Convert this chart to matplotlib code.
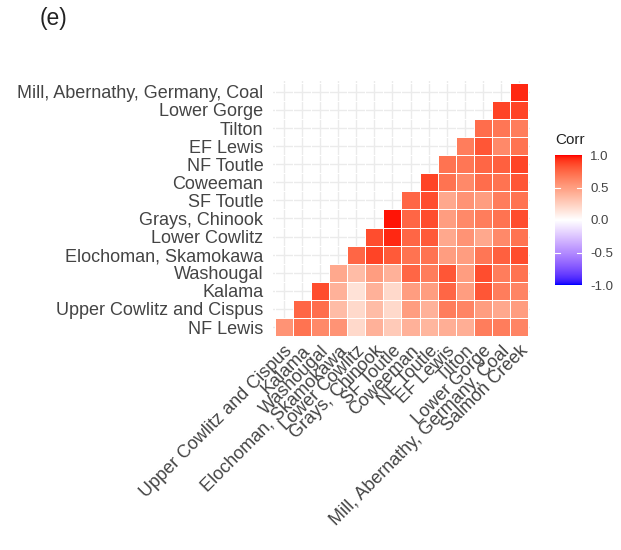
import numpy as np
import matplotlib
matplotlib.use("Agg")
import matplotlib.pyplot as plt
from matplotlib.colors import ListedColormap

plt.rcParams['font.family'] = ['Liberation Sans', 'DejaVu Sans']

# y axis (bottom -> top) and x axis (left -> right) categories
y_labels = ["NF Lewis", "Upper Cowlitz and Cispus", "Kalama", "Washougal",
            "Elochoman, Skamokawa", "Lower Cowlitz", "Grays, Chinook", "SF Toutle",
            "Coweeman", "NF Toutle", "EF Lewis", "Tilton", "Lower Gorge",
            "Mill, Abernathy, Germany, Coal"]
x_labels = ["Upper Cowlitz and Cispus", "Kalama", "Washougal", "Elochoman, Skamokawa",
            "Lower Cowlitz", "Grays, Chinook", "SF Toutle", "Coweeman", "NF Toutle",
            "EF Lewis", "Tilton", "Lower Gorge", "Mill, Abernathy, Germany, Coal",
            "Salmon Creek"]

# correlations per row, starting at the diagonal column
nf_lewis = [0.55, 0.70, 0.60, 0.55, 0.20, 0.40, 0.28, 0.40, 0.38, 0.42, 0.42, 0.65, 0.65, 0.62]
upper_cowlitz = [0.75, 0.72, 0.35, 0.20, 0.35, 0.20, 0.50, 0.40, 0.65, 0.62, 0.50, 0.45, 0.50]
kalama = [0.85, 0.40, 0.15, 0.40, 0.20, 0.50, 0.50, 0.75, 0.50, 0.82, 0.65, 0.62]
washougal = [0.45, 0.35, 0.50, 0.40, 0.75, 0.65, 0.82, 0.50, 0.85, 0.65, 0.70]
elochoman = [0.75, 0.88, 0.80, 0.70, 0.70, 0.50, 0.50, 0.68, 0.78, 0.85]
lower_cowlitz = [0.85, 0.95, 0.75, 0.80, 0.45, 0.55, 0.45, 0.60, 0.70]
grays = [0.98, 0.75, 0.85, 0.50, 0.60, 0.65, 0.70, 0.85]
sf_toutle = [0.75, 0.85, 0.45, 0.55, 0.50, 0.65, 0.70]
coweeman = [0.88, 0.70, 0.60, 0.72, 0.70, 0.82]
nf_toutle = [0.70, 0.68, 0.75, 0.78, 0.88]
ef_lewis = [0.65, 0.82, 0.60, 0.70]
tilton = [0.72, 0.68, 0.65]
lower_gorge = [0.88, 0.88]
mill = [0.95]

rows = [nf_lewis, upper_cowlitz, kalama, washougal, elochoman, lower_cowlitz, grays,
        sf_toutle, coweeman, nf_toutle, ef_lewis, tilton, lower_gorge, mill]

n = len(x_labels)
mat = np.full((n, n), np.nan)
for i, r in enumerate(rows):
    mat[i, i:] = r
mat = np.ma.masked_invalid(mat)


# ggplot-like gradient (interpolated in Lab)
def srgb_to_lab(c):
    c = np.asarray(c, float)
    lin = np.where(c <= 0.04045, c / 12.92, ((c + 0.055) / 1.055) ** 2.4)
    M = np.array([[0.4124, 0.3576, 0.1805], [0.2126, 0.7152, 0.0722], [0.0193, 0.1192, 0.9505]])
    xyz = M @ lin / np.array([0.95047, 1.0, 1.08883])
    f = np.where(xyz > 0.008856, np.cbrt(xyz), 7.787 * xyz + 16 / 116)
    return np.array([116 * f[1] - 16, 500 * (f[0] - f[1]), 200 * (f[1] - f[2])])


def lab_to_srgb(lab):
    L, a, b = lab
    fy = (L + 16) / 116
    fx = fy + a / 500
    fz = fy - b / 200
    f = np.array([fx, fy, fz])
    xyz = np.where(f ** 3 > 0.008856, f ** 3, (f - 16 / 116) / 7.787) * np.array([0.95047, 1.0, 1.08883])
    Minv = np.array([[3.2406, -1.5372, -0.4986], [-0.9689, 1.8758, 0.0415], [0.0557, -0.2040, 1.0570]])
    lin = np.clip(Minv @ xyz, 0, 1)
    c = np.where(lin <= 0.0031308, 12.92 * lin, 1.055 * lin ** (1 / 2.4) - 0.055)
    return np.clip(c, 0, 1)


blue, white, red = srgb_to_lab([0, 0, 1]), srgb_to_lab([1, 1, 1]), srgb_to_lab([1, 0, 0])
cols = []
for t in np.linspace(-1, 1, 256):
    if t < 0:
        lab = white + (blue - white) * (-t)
    else:
        lab = white + (red - white) * t
    cols.append(lab_to_srgb(lab))
cmap = ListedColormap(cols)

fig = plt.figure(figsize=(6.21, 5.5), dpi=100)
ax = fig.add_axes([0.4396, 0.3873, 0.4138, 0.4655])

ax.set_axisbelow(True)
ax.grid(True, color="#EBEBEB", linewidth=1.0)
mesh = ax.pcolormesh(np.arange(n + 1) - 0.5, np.arange(n + 1) - 0.5, mat, cmap=cmap,
                     vmin=-1, vmax=1, edgecolors="white", linewidth=0.4)

ax.set_xlim(-0.6, n - 0.4)
ax.set_ylim(-0.55, n - 0.4)
ax.set_xticks(np.arange(n))
ax.set_yticks(np.arange(n))
ax.set_xticklabels(x_labels, rotation=45, ha="right", va="top", rotation_mode="anchor")
ax.set_yticklabels(y_labels)
ax.tick_params(axis="both", labelcolor="#444444", labelsize=13, length=0)
ax.tick_params(axis="x", pad=4)
ax.tick_params(axis="y", pad=7)
for s in ax.spines.values():
    s.set_visible(False)

# colour bar
cax = fig.add_axes([555 / 621, 1 - 285 / 550, 27 / 621, 130 / 550])
cb = fig.colorbar(mesh, cax=cax, ticks=[-1, -0.5, 0, 0.5, 1])
cb.ax.set_yticklabels(["-1.0", "-0.5", "0.0", "0.5", "1.0"])
cb.outline.set_visible(False)
cb.ax.tick_params(length=0, labelsize=9.5, labelcolor="#444444", pad=6)
for v in [-0.5, 0, 0.5]:
    cb.ax.plot([0, 0.2], [v, v], color="white", lw=0.8, transform=cb.ax.get_yaxis_transform())
    cb.ax.plot([0.8, 1], [v, v], color="white", lw=0.8, transform=cb.ax.get_yaxis_transform())
fig.text(555 / 621, 1 - 140 / 550, "Corr", fontsize=11, color="#222222", va="center")

fig.text(40 / 621, 1 - 18 / 550, "(e)", fontsize=16.5, color="#222222", va="center")

fig.savefig("out.png", dpi=100, facecolor="white")
